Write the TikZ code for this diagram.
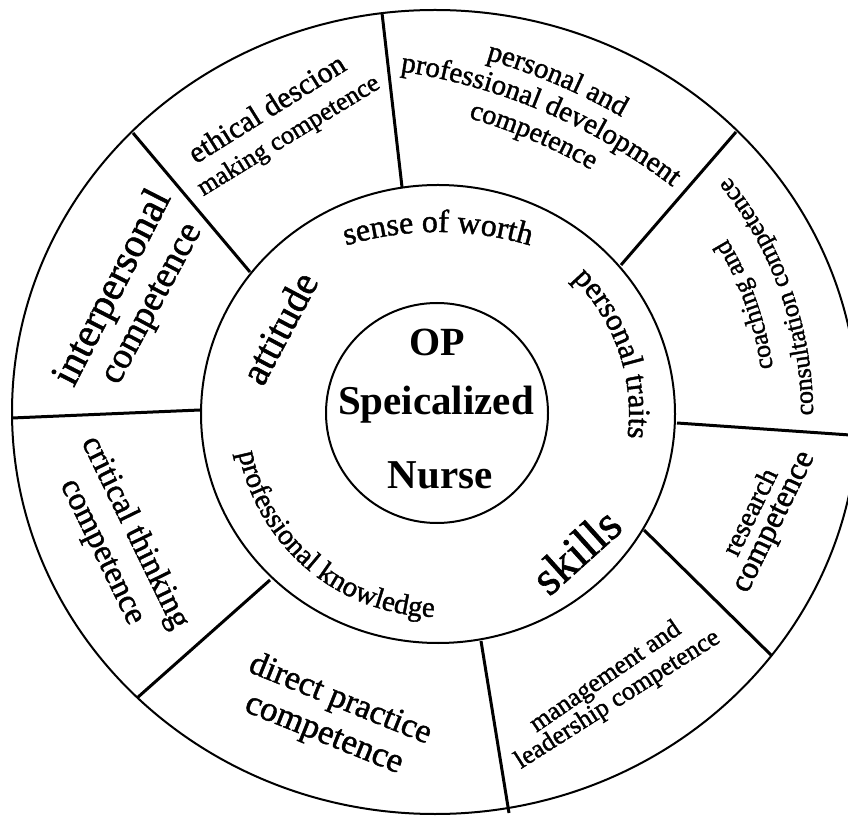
\documentclass[tikz,border=0pt]{standalone}
\usepackage{fontspec}
\setmainfont{Liberation Serif}[UprightFeatures={FakeBold=1.3}]
\usetikzlibrary{decorations.text}
\newcommand\myfs[1]{\fontsize{#1}{#1}\selectfont}
\begin{document}
\begin{tikzpicture}[x=1pt,y=1pt,
  ring/.style={line width=2pt},
  divider/.style={line width=3pt},
  lbl/.style={inner sep=0pt, align=center},
  ctr/.style={inner sep=0pt, anchor=base, font=\bfseries}]
\fill[white] (0,0) rectangle (848,817);
\useasboundingbox (0,0) rectangle (848,817);
\clip (0,0) rectangle (848,817);

% rings
\draw[ring] (435,405) ellipse [x radius=423, y radius=402];
\draw[ring] (438,403) ellipse [x radius=237, y radius=229];
\draw[ring] (437,404) ellipse [x radius=111, y radius=110];

% dividers
\coordinate (d1i) at (402,630); \coordinate (d1o) at (382,804);
\coordinate (d2i) at (250,545); \coordinate (d2o) at (133,684);
\coordinate (d3i) at (621,552); \coordinate (d3o) at (736,685);
\coordinate (d4i) at (677,394); \coordinate (d4o) at (850,382);
\coordinate (d5i) at (644,287); \coordinate (d5o) at (772,161);
\coordinate (d6i) at (481,176); \coordinate (d6o) at (509,4);
\coordinate (d7i) at (270,237); \coordinate (d7o) at (137,119);
\coordinate (d8i) at (200,407); \coordinate (d8o) at (12,399);
\foreach \k in {1,...,8} \draw[divider] (d\k i) -- (d\k o);

% centre
\node[ctr] (op) at (437,461) {\myfs{40}OP};
\node[ctr] (spec) at (436,402) {\myfs{41}Speicalized};
\node[ctr] (nurse) at (440,328) {\myfs{41}Nurse};

% middle ring
\node[lbl, rotate=62] (att) at (279,489) {\myfs{40}attitude};
\node[lbl, rotate=42] (skills) at (576,266) {\myfs{48}skills};
\path[decorate, decoration={text along path, text align=center,
  text={|\myfs{32}|sense of worth}}]
  ([shift={(120:320)}]438,265) arc[start angle=120, end angle=60, radius=320];
\path[decorate, decoration={text along path, text align=center,
  text={|\myfs{31}|personal traits}}]
  ([shift={(54:191)}]438,403) arc[start angle=54, end angle=-16, radius=191];
\path[decorate, decoration={text along path, text align=center,
  text={|\myfs{29}|professional knowledge}}]
  ([shift={(165:203)}]438,403) arc[start angle=165, end angle=295, radius=203];

% outer ring
\node[lbl, rotate=62.9] (ip1) at (113.7,528.7) {\myfs{41}interpersonal};
\node[lbl, rotate=61.8] (ip2) at (154.2,512) {\myfs{37}competence};
\node[lbl, rotate=32] (et1) at (266.5,709) {\myfs{30}ethical descion};
\node[lbl, rotate=31.5] (et2) at (289,680.5) {\myfs{26}making competence};
\path[decorate, decoration={text along path, text align=center,
  text={|\myfs{29}|personal and}}]
  ([shift={(97:618)}]314,164) arc[start angle=97, end angle=37, radius=618];
\path[decorate, decoration={text along path, text align=center,
  text={|\myfs{29}|professional development}}]
  ([shift={(97:588)}]314,164) arc[start angle=97, end angle=37, radius=588];
\path[decorate, decoration={text along path, text align=center,
  text={|\myfs{28}|competence}}]
  ([shift={(97:557)}]314,164) arc[start angle=97, end angle=37, radius=557];
\path[decorate, decoration={text along path, text align=center,
  text={|\myfs{26}|coaching and}}]
  ([shift={(-25:338)}]438,403) arc[start angle=-25, end angle=64, radius=338];
\path[decorate, decoration={text along path, text align=center,
  text={|\myfs{26}|consultation competence}}]
  ([shift={(-25:375)}]438,403) arc[start angle=-25, end angle=64, radius=375];
\node[lbl, rotate=64] (rs1) at (749.2,305.4) {\myfs{28}research};
\node[lbl, rotate=64] (rs2) at (775.8,294.1) {\myfs{32}competence};
\node[lbl, rotate=34.5] (mg1) at (605.8,139.5) {\myfs{26}management and};
\node[lbl, rotate=32.5] (mg2) at (617.7,117) {\myfs{26}leadership competence};
\node[lbl, rotate=-22] (dp1) at (340,117) {\myfs{34}direct practice};
\node[lbl, rotate=-22] (dp2) at (323,80.5) {\myfs{35}competence};
\node[lbl, rotate=-64] (ct1) at (134.5,284) {\myfs{33}critical thinking};
\node[lbl, rotate=-64] (ct2) at (100,264) {\myfs{33}competence};
\end{tikzpicture}
\end{document}
